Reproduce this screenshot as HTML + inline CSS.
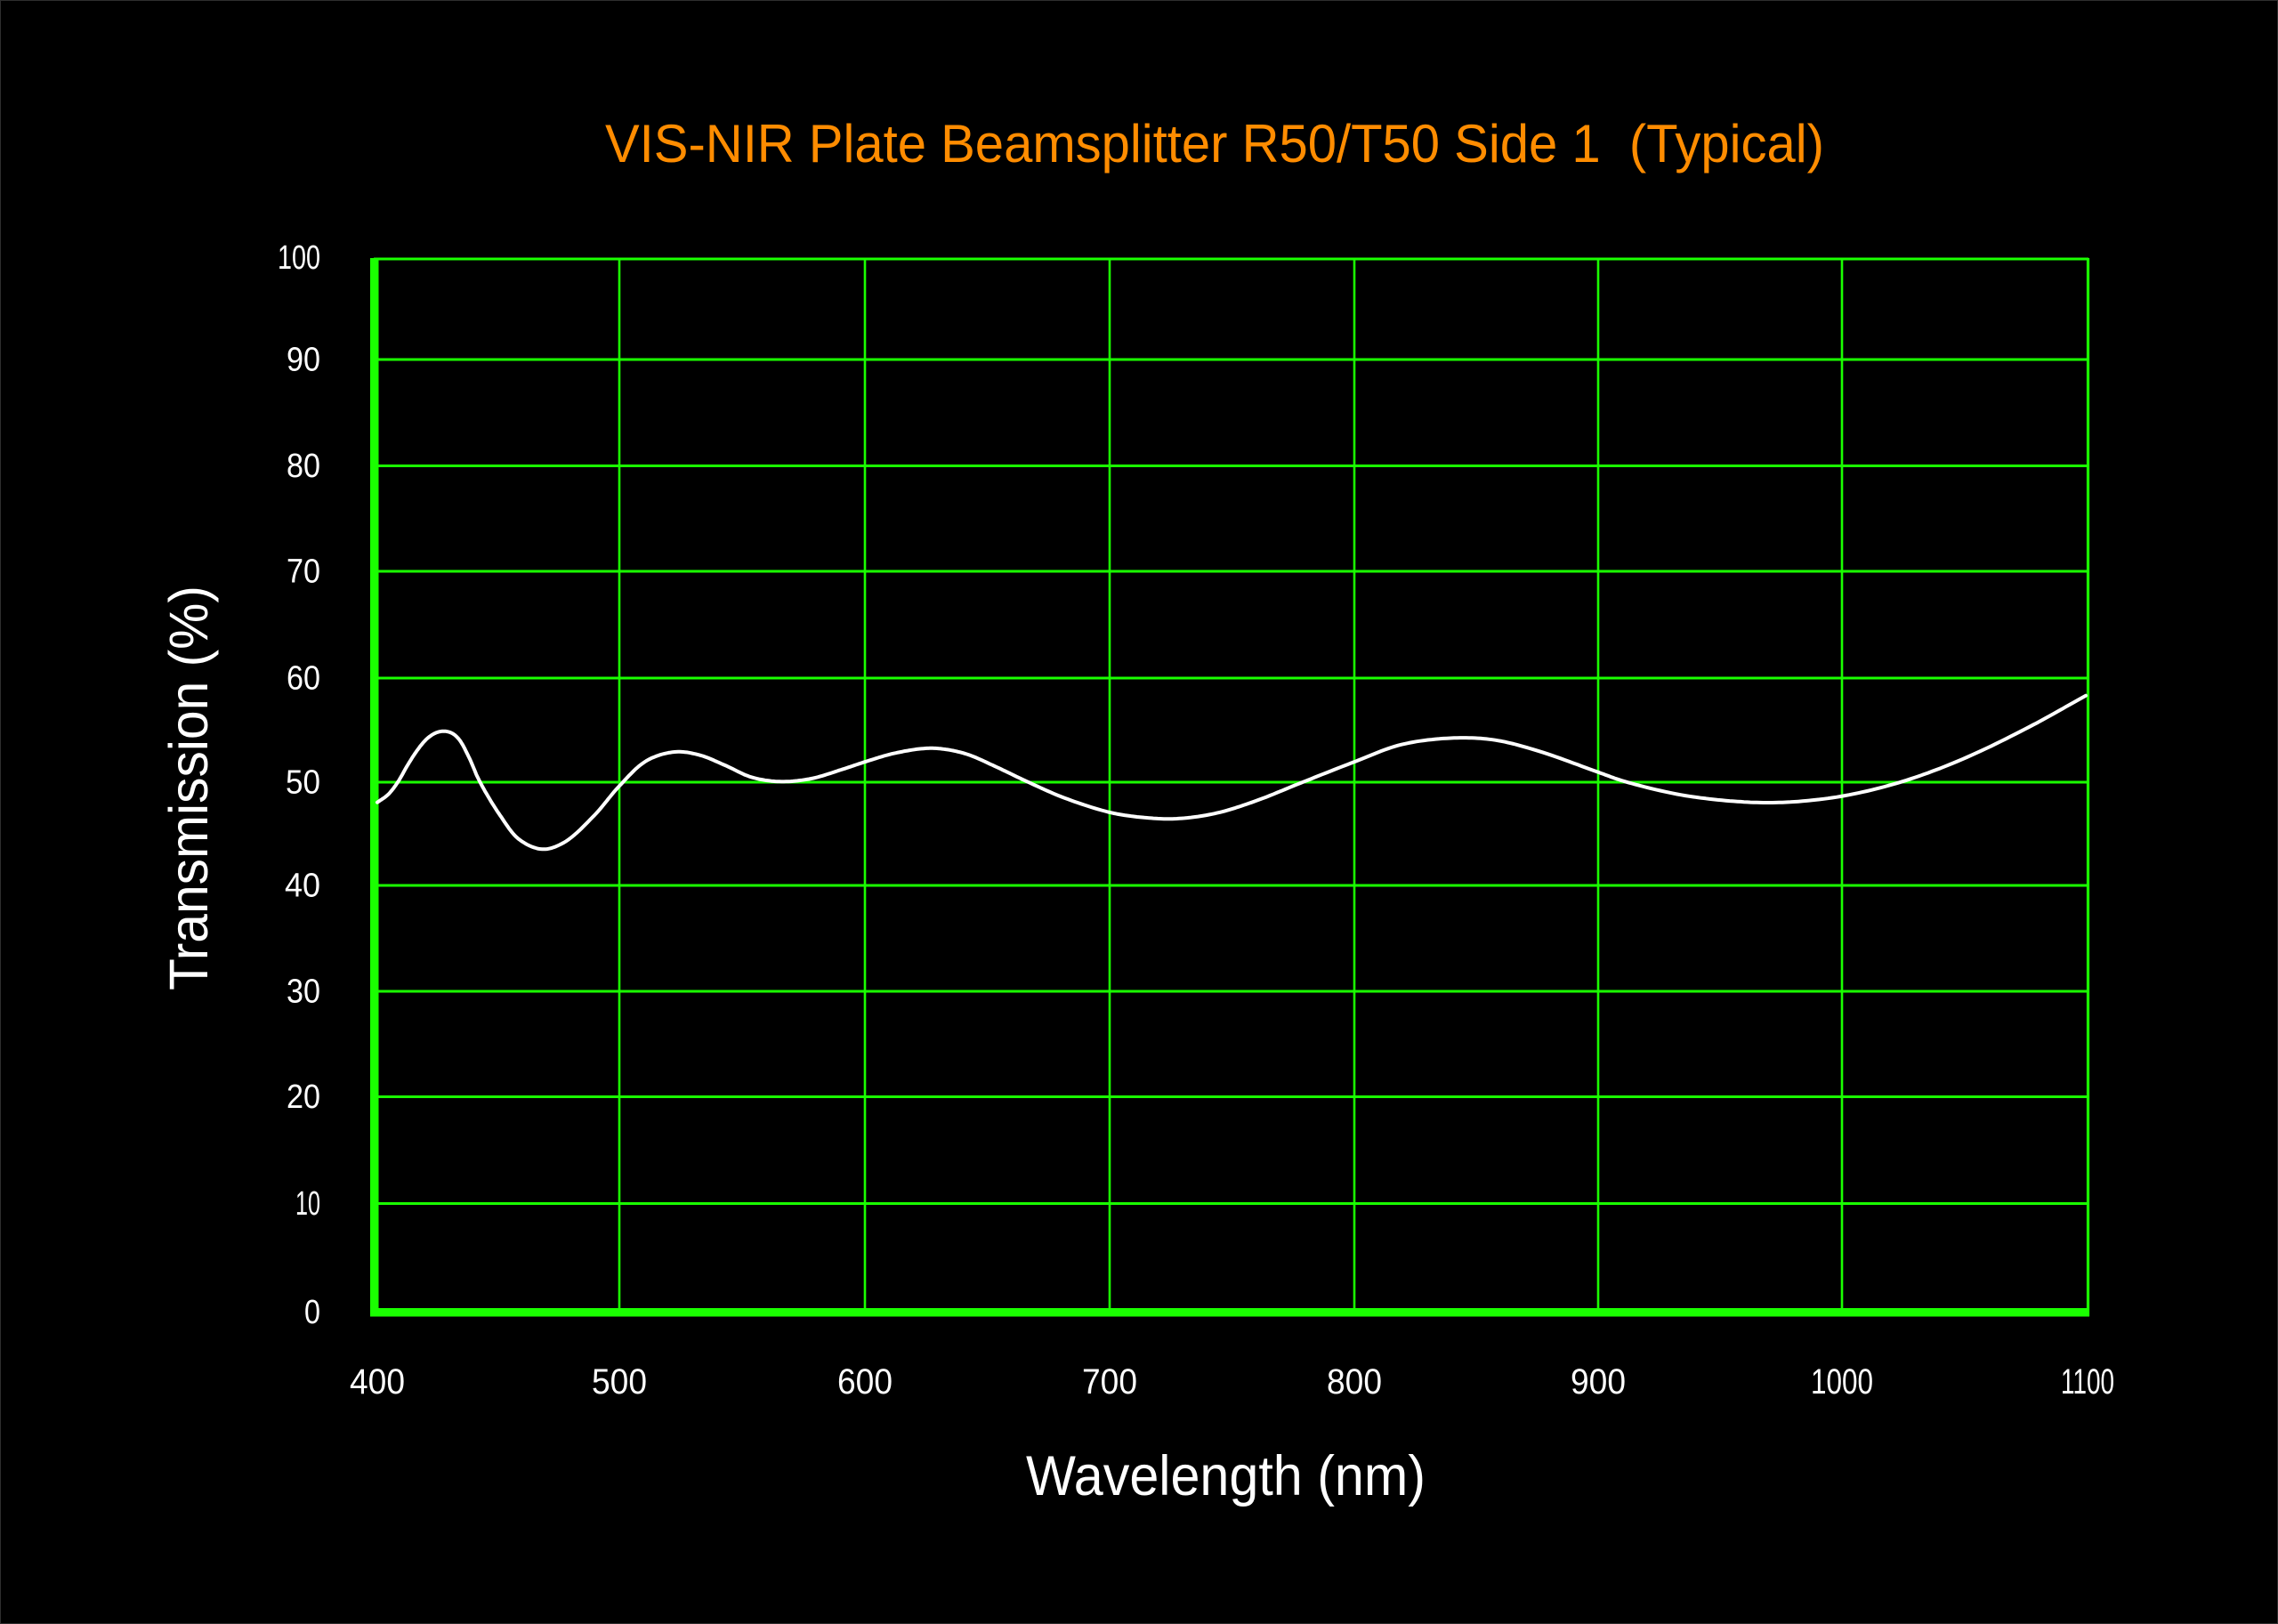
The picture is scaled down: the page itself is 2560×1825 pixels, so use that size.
<!DOCTYPE html>
<html>
<head>
<meta charset="utf-8">
<style>
  html, body { margin: 0; padding: 0; background: #000; }
  body { width: 2560px; height: 1825px; overflow: hidden; }
  svg { display: block; }
  text { font-family: "Liberation Sans", "DejaVu Sans", sans-serif; }
</style>
</head>
<body>
<svg width="2560" height="1825" viewBox="0 0 2560 1825" xmlns="http://www.w3.org/2000/svg">
  <rect x="0" y="0" width="2560" height="1825" fill="#000"/>
  <rect x="0.5" y="0.5" width="2559" height="1824" fill="none" stroke="#2e2e2e" stroke-width="1"/>

  <!-- Title -->
  <text x="680" y="182" font-size="60" fill="#ff8c00" textLength="1370" lengthAdjust="spacingAndGlyphs">VIS-NIR Plate Beamsplitter R50/T50 Side 1&#160;&#160;(Typical)</text>

  <!-- Horizontal grid lines -->
  <g stroke="#1aff00" stroke-width="3" fill="none">
    <line x1="420" y1="291" x2="2347" y2="291"/>
    <line x1="420" y1="404" x2="2347" y2="404"/>
    <line x1="420" y1="523.5" x2="2347" y2="523.5"/>
    <line x1="420" y1="642" x2="2347" y2="642"/>
    <line x1="420" y1="762" x2="2347" y2="762"/>
    <line x1="420" y1="879" x2="2347" y2="879"/>
    <line x1="420" y1="995" x2="2347" y2="995"/>
    <line x1="420" y1="1114" x2="2347" y2="1114"/>
    <line x1="420" y1="1232.5" x2="2347" y2="1232.5"/>
    <line x1="420" y1="1352.5" x2="2347" y2="1352.5"/>
  </g>
  <!-- Vertical grid lines -->
  <g stroke="#1aff00" stroke-width="2.6" fill="none">
    <line x1="696" y1="290" x2="696" y2="1474"/>
    <line x1="972" y1="290" x2="972" y2="1474"/>
    <line x1="1247" y1="290" x2="1247" y2="1474"/>
    <line x1="1522" y1="290" x2="1522" y2="1474"/>
    <line x1="1796" y1="290" x2="1796" y2="1474"/>
    <line x1="2070" y1="290" x2="2070" y2="1474"/>
  </g>
  <line x1="2346.5" y1="290" x2="2346.5" y2="1479" stroke="#1aff00" stroke-width="3.2"/>

  <!-- Thick axes -->
  <rect x="416" y="290" width="9.5" height="1189" fill="#1aff00"/>
  <rect x="416" y="1470" width="1932" height="9.5" fill="#1aff00"/>

  <!-- Curve -->
  <polyline id="curve" fill="none" stroke="#ffffff" stroke-width="4" stroke-linejoin="round" stroke-linecap="round"
    points="424,901.7 436,893 447,879 458,860 469,843 480,830 490,823.5 499,821.7 508,824 516,831 527,851 539,878 562.3,916.7 583.4,943.3 609.4,954.3 633.9,946.7 667.5,916.7 696,883.3 726.4,855 758,845 785.4,848.3 814.8,860 844.3,873.3 875.9,878.3 911.6,875 945.3,865 973.5,855.7 1004.2,846.7 1040,841 1062,842 1088,848 1120,862 1154.2,878.3 1196.3,896.7 1248.9,913.3 1288.9,919 1322.5,920 1364.6,914.3 1406.7,901.7 1465.6,878.3 1522.4,856 1575,836.7 1634,829.3 1680.3,831.7 1730,844.3 1794.7,867.3 1826.3,878.3 1889.4,893.3 1952.5,900.7 2003,901.7 2068.3,895 2137.7,878.3 2205,853.3 2280.8,816.7 2344,781.7"/>

  <!-- Y tick labels -->
  <g fill="#ffffff" font-size="38">
    <text x="312" y="302" textLength="48" lengthAdjust="spacingAndGlyphs">100</text>
    <text x="322" y="416.5" textLength="38" lengthAdjust="spacingAndGlyphs">90</text>
    <text x="322" y="536" textLength="38" lengthAdjust="spacingAndGlyphs">80</text>
    <text x="322" y="654.5" textLength="38" lengthAdjust="spacingAndGlyphs">70</text>
    <text x="322" y="774.5" textLength="38" lengthAdjust="spacingAndGlyphs">60</text>
    <text x="321" y="891.5" textLength="39" lengthAdjust="spacingAndGlyphs">50</text>
    <text x="320" y="1007.5" textLength="40" lengthAdjust="spacingAndGlyphs">40</text>
    <text x="322" y="1126.5" textLength="38" lengthAdjust="spacingAndGlyphs">30</text>
    <text x="322" y="1245" textLength="38" lengthAdjust="spacingAndGlyphs">20</text>
    <text x="332" y="1365" textLength="28" lengthAdjust="spacingAndGlyphs">10</text>
    <text x="342" y="1487" textLength="18" lengthAdjust="spacingAndGlyphs">0</text>
  </g>

  <!-- X tick labels -->
  <g fill="#ffffff" font-size="40">
    <text x="393" y="1566" textLength="62" lengthAdjust="spacingAndGlyphs">400</text>
    <text x="665" y="1566" textLength="62" lengthAdjust="spacingAndGlyphs">500</text>
    <text x="941" y="1566" textLength="62" lengthAdjust="spacingAndGlyphs">600</text>
    <text x="1216" y="1566" textLength="62" lengthAdjust="spacingAndGlyphs">700</text>
    <text x="1491" y="1566" textLength="62" lengthAdjust="spacingAndGlyphs">800</text>
    <text x="1765" y="1566" textLength="62" lengthAdjust="spacingAndGlyphs">900</text>
    <text x="2035" y="1566" textLength="70" lengthAdjust="spacingAndGlyphs">1000</text>
    <text x="2316" y="1566" textLength="60" lengthAdjust="spacingAndGlyphs">1100</text>
  </g>

  <!-- Axis titles -->
  <text x="1153" y="1680" font-size="63" fill="#ffffff" textLength="449" lengthAdjust="spacingAndGlyphs">Wavelength (nm)</text>
  <text transform="translate(233,1113) rotate(-90)" x="0" y="0" font-size="61" fill="#ffffff" textLength="455" lengthAdjust="spacingAndGlyphs">Transmission (%)</text>
</svg>
<script>
(function(){
  var pl = document.getElementById('curve');
  if (!pl) return;
  var raw = pl.getAttribute('points').trim().split(/\s+/).map(function(p){var a=p.split(',');return [parseFloat(a[0]),parseFloat(a[1])];});
  function dist(a,b){var dx=a[0]-b[0],dy=a[1]-b[1];return Math.pow(Math.sqrt(dx*dx+dy*dy),0.5)||1e-4;}
  var out = [];
  for (var i=0;i<raw.length-1;i++){
    var p1 = raw[i], p2 = raw[i+1];
    var p0 = i>0 ? raw[i-1] : [2*p1[0]-p2[0], 2*p1[1]-p2[1]];
    var p3 = i+2<raw.length ? raw[i+2] : [2*p2[0]-p1[0], 2*p2[1]-p1[1]];
    var t0=0, t1=t0+dist(p0,p1), t2=t1+dist(p1,p2), t3=t2+dist(p2,p3);
    var n = 14;
    for (var k=0;k<n;k++){
      var t = t1 + (t2-t1)*k/n;
      var pt=[0,0];
      for (var d=0; d<2; d++){
        var A1=(t1-t)/(t1-t0)*p0[d]+(t-t0)/(t1-t0)*p1[d];
        var A2=(t2-t)/(t2-t1)*p1[d]+(t-t1)/(t2-t1)*p2[d];
        var A3=(t3-t)/(t3-t2)*p2[d]+(t-t2)/(t3-t2)*p3[d];
        var B1=(t2-t)/(t2-t0)*A1+(t-t0)/(t2-t0)*A2;
        var B2=(t3-t)/(t3-t1)*A2+(t-t1)/(t3-t1)*A3;
        pt[d]=(t2-t)/(t2-t1)*B1+(t-t1)/(t2-t1)*B2;
      }
      out.push(pt[0].toFixed(1)+','+pt[1].toFixed(1));
    }
  }
  var last = raw[raw.length-1];
  out.push(last[0]+','+last[1]);
  pl.setAttribute('points', out.join(' '));
})();
</script>
</body>
</html>
